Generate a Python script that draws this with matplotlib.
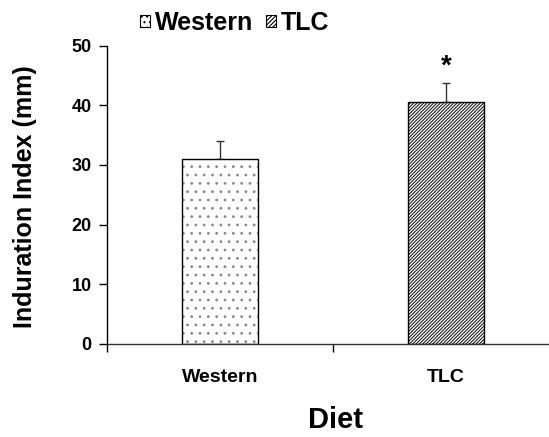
import matplotlib.pyplot as plt
from matplotlib.patches import Patch

plt.rcParams['font.family'] = ['Liberation Sans', 'DejaVu Sans']
plt.rcParams['font.weight'] = 'bold'
plt.rcParams['hatch.linewidth'] = 0.8

# data
diets = ['Western', 'TLC']
induration = [31.0, 40.5]
sem_upper = [3.0, 3.2]
hatches = ['..', '/' * 10]
hatch_colors = ['#8a8a8a', '#222222']

fig = plt.figure(figsize=(5.49, 4.37), dpi=100)
ax = fig.add_axes([107 / 549, 93.3 / 437, 452 / 549, 298 / 437])

x = list(range(len(diets)))
width = 0.34

# hatch layer, then the black outline on top
for xi, val, h, hc in zip(x, induration, hatches, hatch_colors):
    ax.bar(xi, val, width=width, color='white', edgecolor=hc, hatch=h, linewidth=0, zorder=2)
ax.bar(x, induration, width=width, facecolor='none', edgecolor='black', linewidth=1.0, zorder=3)

# one-sided error bars
ax.errorbar(x, induration, yerr=[[0] * len(x), sem_upper], fmt='none',
            ecolor='#333333', elinewidth=1.0, capsize=3, capthick=1.0, zorder=1)

# significance mark
ax.text(1, 45.3, '*', ha='center', va='baseline', fontsize=20, fontweight='bold')

ax.set_xlim(-0.5, 1.5)
ax.set_ylim(0, 50)
ax.set_yticks([0, 10, 20, 30, 40, 50])
ax.set_xticks(x)
ax.set_xticklabels(diets, fontsize=14, fontweight='bold')
ax.set_xticks([-0.5, 0.5, 1.5], minor=True)
ax.tick_params(axis='x', which='major', length=0, pad=18)
ax.tick_params(axis='x', which='minor', length=6, width=1, direction='out')
ax.tick_params(axis='y', length=6, width=1, direction='out', pad=5, labelsize=13)
for lab in ax.get_yticklabels():
    lab.set_fontweight('bold')

ax.spines['top'].set_visible(False)
ax.spines['right'].set_visible(False)
ax.spines['left'].set_linewidth(1.0)
ax.spines['bottom'].set_linewidth(1.0)
ax.spines['bottom'].set_color('#333333')

fig.text(25 / 549, 1 - 196.5 / 437, 'Induration Index (mm)', rotation=90,
         ha='center', va='center', fontsize=18, fontweight='bold')
fig.text(335 / 549, 1 - 428 / 437, 'Diet', ha='center', va='baseline',
         fontsize=21, fontweight='bold')

legend_hatches = ['...', '/' * 8]
handles = [Patch(facecolor='white', edgecolor='black', hatch=h, linewidth=0.8) for h in legend_hatches]
fig.legend(handles, diets, loc='center left', bbox_to_anchor=(140 / 549, 1 - 23 / 437),
           bbox_transform=fig.transFigure, ncol=2, frameon=False,
           prop={'size': 18, 'weight': 'bold'}, handlelength=0.4, handleheight=0.4,
           handletextpad=0.2, columnspacing=0.5, borderpad=0, borderaxespad=0)

fig.savefig('out.png', dpi=100)
